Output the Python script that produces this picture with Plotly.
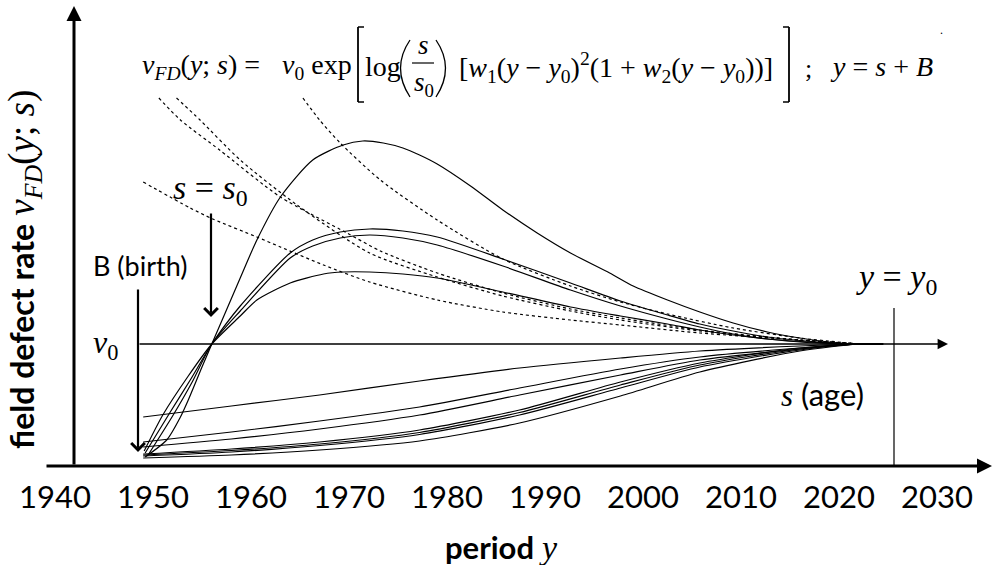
import plotly.graph_objects as go

# ---------------- data ----------------
tick_years = [1940, 1950, 1960, 1970, 1980, 1990, 2000, 2010, 2020, 2030]
tick_labels = ["1940", "1950", "1960", "1970", "1980", "1990", "2000", "2010", "2020", "2030"]

# upper solid curves (s > s0)
a_year = [1949.2, 1951.4, 1952.8, 1953.6, 1955.0, 1956.0, 1958.9, 1960.6, 1963.0, 1966.3, 1969.4,
          1971.4, 1973.5, 1975.5, 1977.2, 1979.0, 1982.4, 1985.7, 1989.2, 1992.6, 1996.6, 1999.0,
          2002.5, 2005.8, 2009.2, 2012.7, 2016.0, 2019.4, 2022.1, 2024.5]
a_rate = [9, 26, 49, 66, 99, 122, 188, 226, 269, 306, 321,
          325, 323, 318, 311, 302, 280, 256, 233, 213, 193, 180,
          166, 154, 143, 134, 128, 123.5, 122, 122]

b_year = [1949.2, 1951.7, 1953.8, 1956.0, 1958.9, 1964.0, 1966.3, 1969.1, 1972.1, 1975.5, 1979.0,
          1985.7, 1992.6, 1997.7, 2002.5, 2005.8, 2009.2, 2012.7, 2016.0, 2019.4, 2022.1, 2024.5]
b_rate = [13, 53, 86, 122, 160, 213, 226, 234, 237, 235, 229,
          207, 183, 165, 151, 142, 135, 129, 125.5, 123, 122, 122]

c_year = [1949.5, 1952.0, 1954.0, 1956.0, 1958.9, 1964.0, 1966.3, 1969.1, 1972.1, 1975.5, 1979.0,
          1985.7, 1992.6, 1997.7, 2002.5, 2005.8, 2009.2, 2012.7, 2016.0, 2019.4, 2022.1, 2024.5]
c_rate = [11, 50, 84, 122, 155, 208, 220, 228, 231, 228, 221,
          200, 176, 160, 147, 139, 132, 127, 124.5, 122.8, 122, 122]

d_year = [1949.1, 1951.0, 1953.6, 1956.0, 1958.9, 1960.6, 1964.0, 1967.4, 1969.4, 1972.1, 1975.5,
          1979.0, 1985.7, 1992.6, 1997.7, 2002.5, 2005.8, 2009.2, 2012.7, 2016.0, 2019.4, 2022.1, 2024.5]
d_rate = [15, 51, 90, 122, 150, 166, 183, 192, 194, 194, 192,
          188, 174, 159, 150, 142, 136, 131, 127, 124, 122.5, 122, 122]

# dotted curves
dot1_year = [1950.6, 1952.8, 1956.8, 1963.0, 1969.8, 1973.2, 1979.0, 1985.7, 1992.6, 1997.7, 2005.8, 2016.0, 2022.1]
dot1_rate = [368, 346, 316, 269, 233, 215, 193, 173, 157, 148, 136, 126, 122]

dot2_year = [1952.4, 1954.8, 1958.9, 1964.7, 1972.1, 1979.0, 1985.7, 1992.6, 1997.7, 2005.8, 2016.0, 2022.1]
dot2_rate = [368, 346, 306, 261, 213, 189, 170, 155, 146, 135, 126, 122]

dot3_year = [1965.3, 1967.0, 1969.1, 1973.2, 1979.0, 1985.7, 1992.6, 1997.7, 2002.5, 2009.2, 2016.0, 2022.1]
dot3_rate = [368, 346, 323, 286, 246, 207, 180, 164, 152, 138, 128, 122]

dot4_year = [1949.0, 1953.8, 1956.1, 1960.6, 1963.0, 1967.4, 1972.1, 1979.0, 1985.7, 1992.6, 1997.7, 2005.8, 2016.0, 2022.1]
dot4_rate = [284, 258, 247, 229, 219, 201, 184, 166, 154, 146, 141, 133, 126, 122]

# lower solid curves (s < s0)
low_year = [1949.0, 1958.0, 1967.0, 1977.2, 1987.4, 1997.7, 2005.8, 2016.0, 2022.1, 2024.5]
low1_rate = [49, 60, 71, 85, 98, 108, 115, 120, 122, 122]
low2_rate = [24, 34, 45, 59, 78, 97, 109, 118, 122, 122]
low3_rate = [19, 27, 37, 51, 71, 91, 106, 117, 122, 122]
low4_rate = [12, 17, 24, 36, 56, 84, 103, 118, 122, 122]
low5_rate = [11, 15.5, 22, 33.5, 53.5, 81, 101, 117, 122, 122]
low6_rate = [10, 14, 20.5, 31.5, 51, 78, 99, 116, 122, 122]
low7_rate = [8, 11, 16, 25, 43, 70, 94, 115, 122, 122]

v0_level = 122

# ---------------- figure ----------------
PX_PER_YEAR = 9.8


def X(px):
    return 1950 + (px - 153) / PX_PER_YEAR


def Y(py):
    return 466 - py


def PX(px):
    return (px - 45) / 945.0


def PY(py):
    return (466 - py) / 460.0


fig = go.Figure()

solid_curves = [(a_year, a_rate), (b_year, b_rate), (c_year, c_rate), (d_year, d_rate),
                (low_year, low1_rate), (low_year, low2_rate), (low_year, low3_rate),
                (low_year, low4_rate), (low_year, low5_rate), (low_year, low6_rate),
                (low_year, low7_rate)]
for xs, ys in solid_curves:
    fig.add_trace(go.Scatter(x=xs, y=ys, mode="lines", hoverinfo="skip", showlegend=False,
                             line=dict(color="black", width=1.2, shape="spline", smoothing=0.7)))

dotted_curves = [(dot1_year, dot1_rate), (dot2_year, dot2_rate), (dot3_year, dot3_rate), (dot4_year, dot4_rate)]
for xs, ys in dotted_curves:
    fig.add_trace(go.Scatter(x=xs, y=ys, mode="lines", hoverinfo="skip", showlegend=False,
                             line=dict(color="black", width=1.2, dash="dot", shape="spline", smoothing=0.7)))

SERIF = "Liberation Serif"
SANS = "Lato"
ann = []


def arrow(x_head, y_head, x_tail, y_tail, head, width, size):
    ann.append(dict(x=x_head, y=y_head, ax=x_tail, ay=y_tail, xref="x", yref="y", axref="x", ayref="y",
                    text="", showarrow=True, arrowhead=head, arrowwidth=width, arrowsize=size,
                    arrowcolor="black", standoff=0, startstandoff=0))


# axes arrows
arrow(X(992), 0, X(45), 0, 2, 3, 1.0)
arrow(X(74), Y(6), X(74), 0, 2, 3, 1.0)
# v0 level line
arrow(X(948), v0_level, X(138), v0_level, 2, 1.3, 1.6)
# B (birth) arrow and s = s0 arrow
arrow(X(138), Y(452), X(138), Y(288), 4, 2.2, 1.2)
arrow(X(211), Y(317), X(211), Y(212), 4, 2.2, 1.2)


def text(px, py, t, size, family, anchor="center"):
    ann.append(dict(x=PX(px), y=PY(py), xref="paper", yref="paper", text=t, showarrow=False,
                    xanchor=anchor, yanchor="middle", font=dict(family=family, size=size, color="black")))


# formula pieces
text(140, 66, "<i>ν</i><sub><i>FD</i></sub>(<i>y</i>; <i>s</i>) =", 28, SERIF, "left")
text(280, 66, "<i>ν</i><sub>0</sub> exp", 28, SERIF, "left")
text(363, 66, "log", 28, SERIF, "left")
text(423, 45, "<i>s</i>", 27, SERIF)
text(424, 84, "<i>s</i><sub>0</sub>", 27, SERIF)
text(457, 67, "[<i>w</i><sub>1</sub>(<i>y</i> − <i>y</i><sub>0</sub>)<sup>2</sup>(1 + <i>w</i><sub>2</sub>(<i>y</i> − <i>y</i><sub>0</sub>))]",
     28, SERIF, "left")
text(803, 68, ";", 26, SERIF, "left")
text(828, 66, "<i>y</i> = <i>s</i> + <i>B</i>", 28, SERIF, "left")
text(941, 30, ".", 12, SERIF)

# labels
text(210, 190, "<i>s</i> = <i>s</i><sub>0</sub>", 34, SERIF)
text(140, 265, "B (birth)", 27, SANS)
text(105, 344, "<i>ν</i><sub>0</sub>", 32, SERIF)
text(896, 279, "<i>y</i> = <i>y</i><sub>0</sub>", 34, SERIF)
text(822, 394, "<span style='font-family:Liberation Serif'><i>s</i></span> (age)", 31, SANS)

# axis titles
ann.append(dict(x=PX(24), y=PY(270), xref="paper", yref="paper", textangle=-90, showarrow=False,
                xanchor="center", yanchor="middle",
                text="<b>field defect rate</b> <span style='font-family:Liberation Serif;font-size:37px'><i>ν</i><sub><i>FD</i></sub>(<i>y</i>; <i>s</i>)</span>",
                font=dict(family=SANS, size=32, color="black")))
ann.append(dict(x=PX(501), y=PY(547), xref="paper", yref="paper", showarrow=False,
                xanchor="center", yanchor="middle",
                text="<b>period</b> <span style='font-family:Liberation Serif;font-size:34px'><i>y</i></span>",
                font=dict(family=SANS, size=31, color="black")))

shapes = []


def seg(px0, py0, px1, py1, w):
    shapes.append(dict(type="line", xref="x", yref="y", x0=X(px0), y0=Y(py0), x1=X(px1), y1=Y(py1),
                       line=dict(color="black", width=w)))


def curve(p0, c, p1, w):
    path = "M {},{} Q {},{} {},{}".format(X(p0[0]), Y(p0[1]), X(c[0]), Y(c[1]), X(p1[0]), Y(p1[1]))
    shapes.append(dict(type="path", xref="x", yref="y", path=path, line=dict(color="black", width=w)))


# y = y0 vertical line
seg(894, 308, 894, 466, 1.2)
# big brackets
seg(358, 27, 358, 102, 1.8)
seg(358, 27, 364, 27, 1.5)
seg(358, 102, 364, 102, 1.5)
seg(789, 27, 789, 102, 1.8)
seg(783, 27, 789, 27, 1.5)
seg(783, 102, 789, 102, 1.5)
# big parentheses and fraction bar
curve((410, 40), (391, 68), (410, 97), 1.3)
curve((436, 40), (455, 68), (436, 97), 1.3)
seg(412, 63, 434, 63, 1.2)

fig.update_layout(
    width=997, height=565,
    margin=dict(l=45, r=7, t=6, b=99),
    paper_bgcolor="white", plot_bgcolor="white",
    annotations=ann, shapes=shapes,
    xaxis=dict(range=[X(45), X(990)], showgrid=False, zeroline=False, showline=False, ticks="",
               tickvals=tick_years, ticktext=tick_labels, ticklabelstandoff=10,
               tickfont=dict(family=SANS, size=31, color="black")),
    yaxis=dict(range=[0, 460], visible=False),
)

fig.write_html("out.html")
